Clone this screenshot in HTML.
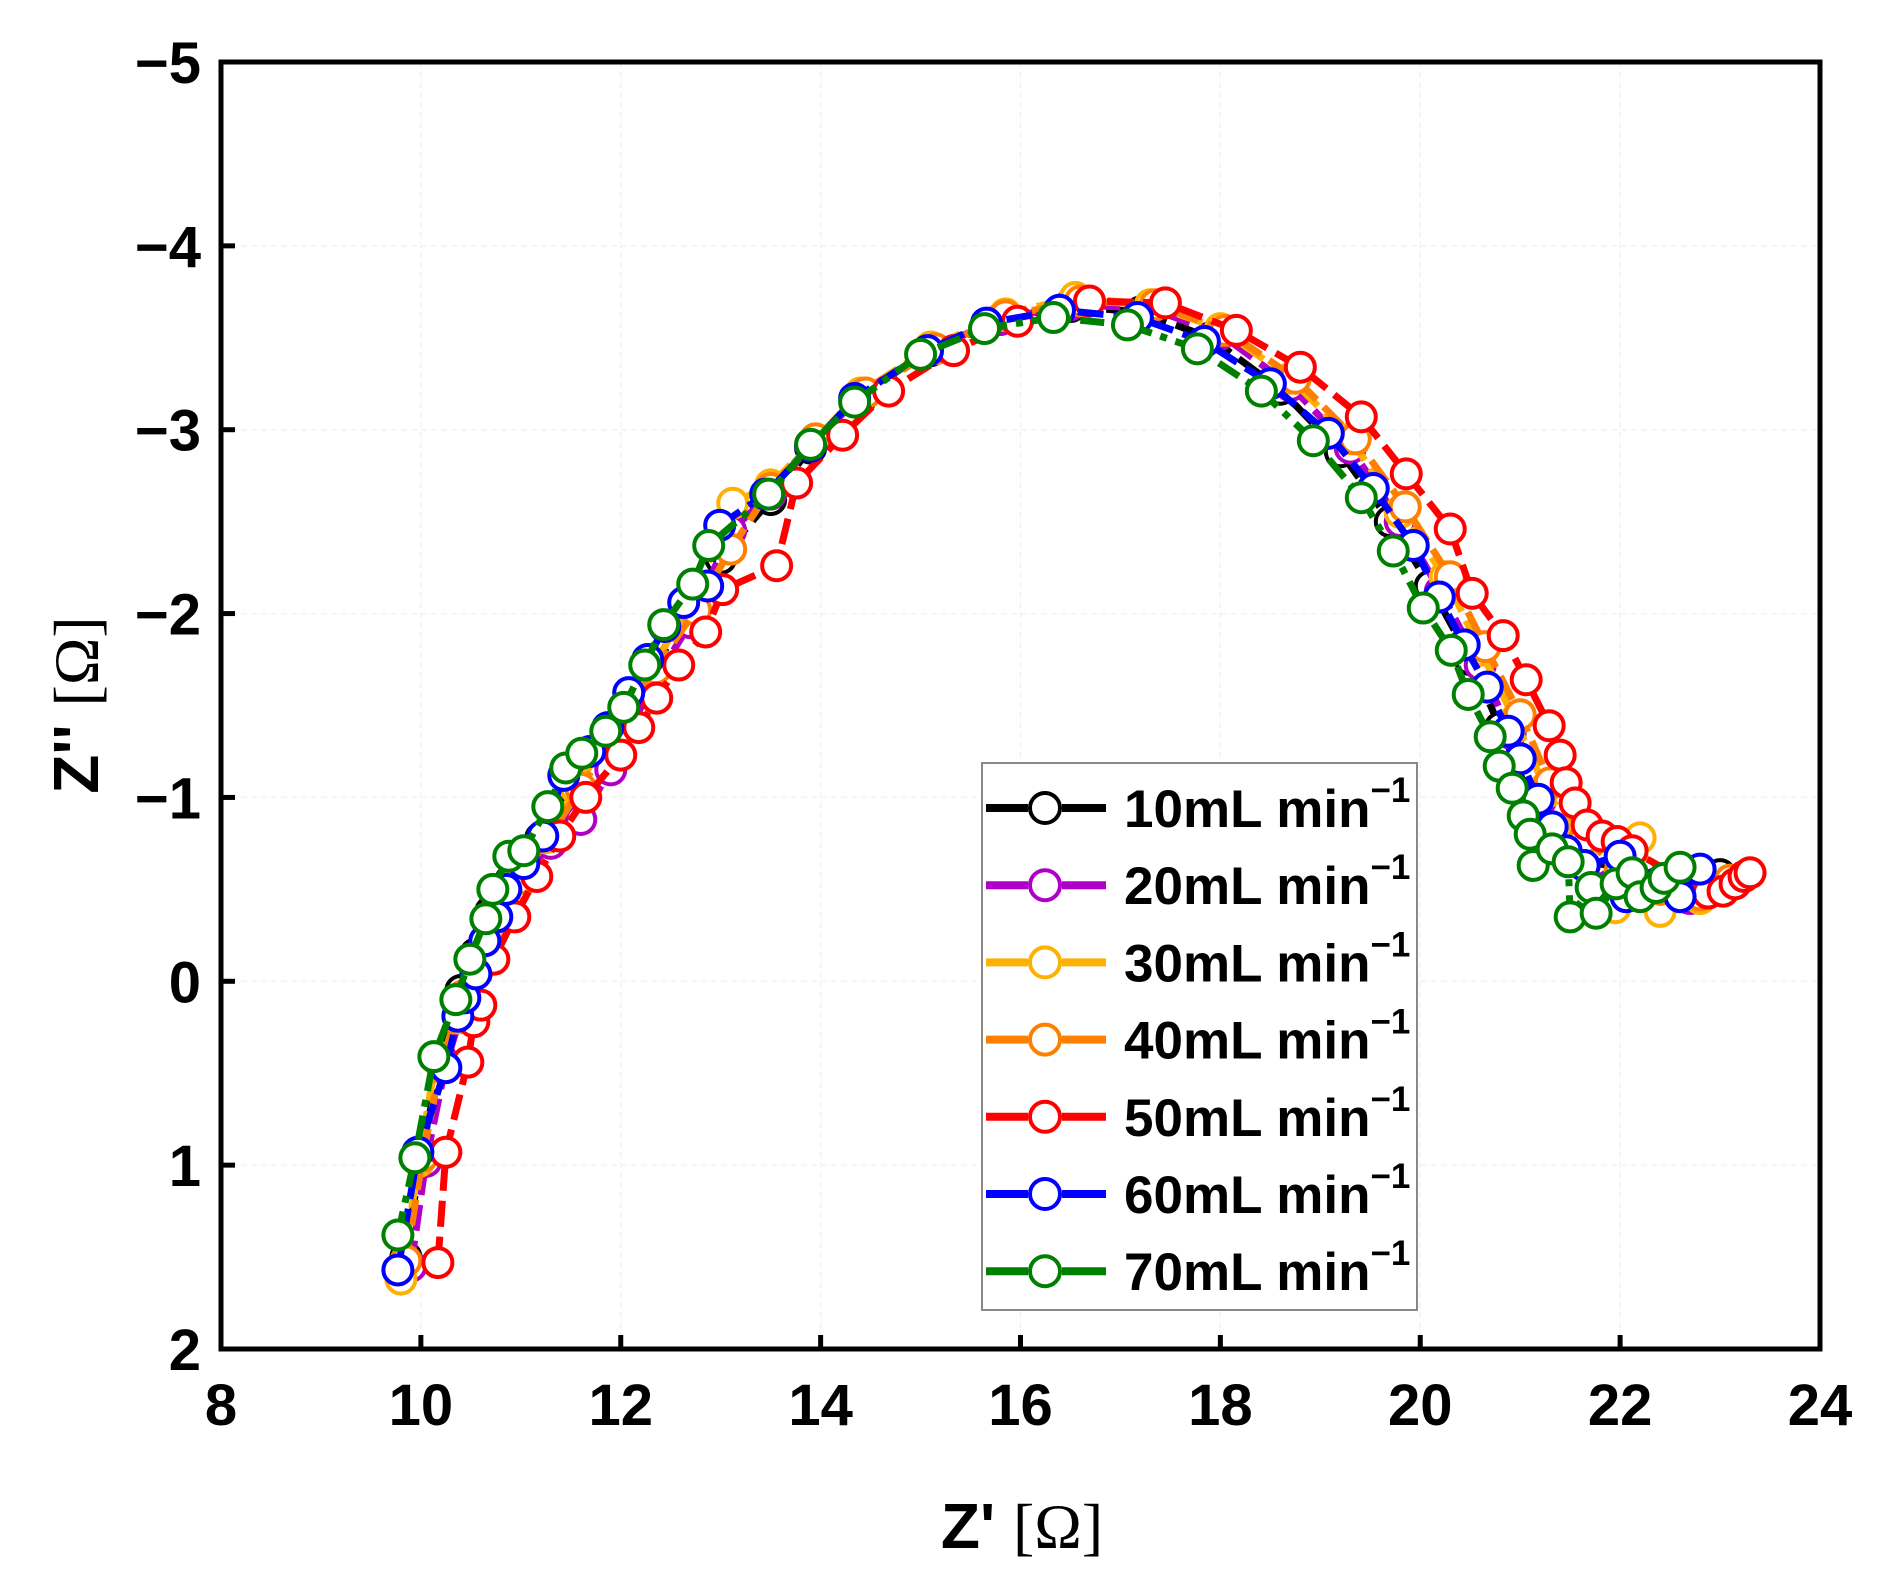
<!DOCTYPE html>
<html><head><meta charset="utf-8"><style>
html,body{margin:0;padding:0;background:#fff;}
svg{display:block;font-family:"Liberation Sans",Arial,sans-serif;}
</style></head><body>
<svg id="chart" width="1886" height="1580" viewBox="0 0 1886 1580" xmlns="http://www.w3.org/2000/svg">
<g id="grid"></g>
<g id="series"></g>
<rect x="221" y="62" width="1599" height="1287" fill="none" stroke="#000" stroke-width="5"/>
<g id="axes"></g>
<text x="1022" y="1548" text-anchor="middle" font-size="64" font-weight="bold">Z' <tspan font-weight="normal" font-family="Liberation Serif,serif">[Ω]</tspan></text>
<text transform="translate(98,705) rotate(-90)" text-anchor="middle" font-size="64" font-weight="bold">Z'' <tspan font-weight="normal" font-family="Liberation Serif,serif">[Ω]</tspan></text>
<g id="legend"></g>
</svg>
<script>
const xTicks=[8,10,12,14,16,18,20,22,24];
const yTicks=[-5,-4,-3,-2,-1,0,1,2];
const seriesNames=["10mL min","20mL min","30mL min","40mL min","50mL min","60mL min","70mL min"];
const seriesColors=["#000000","#b000c8","#ffb000","#ff7f00","#ff0000","#0000ff","#008000"];
const s10x=[9.85,10.0,10.2,10.4,10.55,10.7,10.9,11.2,11.5,11.9,12.3,12.7,13.0,13.5,13.9,14.4,15.1,15.8,16.5,17.2,17.9,18.6,19.2,19.7,20.1,20.5,20.8,21.1,21.4,21.8,22.2,22.6,23.0];
const s10y=[1.5,0.95,0.42,0.05,-0.15,-0.38,-0.55,-0.78,-1.05,-1.33,-1.68,-2.02,-2.3,-2.62,-2.9,-3.17,-3.43,-3.6,-3.67,-3.64,-3.5,-3.22,-2.88,-2.5,-2.15,-1.75,-1.38,-1.0,-0.72,-0.55,-0.5,-0.48,-0.58];
const s20x=[9.9,10.05,10.25,10.45,10.6,10.75,11.0,11.3,11.6,11.9,12.3,12.7,13.1,13.5,13.9,14.4,15.1,15.8,16.5,17.3,18.0,18.7,19.3,19.8,20.2,20.6,20.9,21.2,21.5,21.9,22.3,22.7];
const s20y=[1.55,0.98,0.45,0.1,-0.15,-0.33,-0.55,-0.75,-0.88,-1.15,-1.6,-1.95,-2.45,-2.65,-2.92,-3.18,-3.44,-3.6,-3.68,-3.66,-3.52,-3.24,-2.9,-2.5,-2.12,-1.72,-1.35,-0.98,-0.7,-0.52,-0.47,-0.45];
const s30x=[9.8,9.98,10.15,10.38,10.55,10.7,10.95,11.25,11.55,11.9,12.3,12.7,13.12,13.5,13.95,14.4,15.1,15.85,16.55,17.3,18.0,18.7,19.3,19.8,20.25,20.6,20.95,21.25,21.6,21.95,22.2,22.4,22.8];
const s30y=[1.62,0.98,0.42,0.2,-0.05,-0.3,-0.52,-0.78,-1.05,-1.35,-1.7,-2.05,-2.6,-2.7,-2.95,-3.2,-3.45,-3.63,-3.72,-3.68,-3.55,-3.28,-2.95,-2.55,-2.2,-1.8,-1.42,-1.05,-0.75,-0.4,-0.78,-0.38,-0.45];
const s40x=[9.85,10.02,10.2,10.42,10.58,10.75,11.0,11.3,11.6,11.95,12.35,12.75,13.1,13.5,13.95,14.45,15.15,15.85,16.6,17.35,18.05,18.75,19.35,19.85,20.3,20.65,21.0,21.3,21.65,22.0,22.4,22.8,23.1];
const s40y=[1.52,0.95,0.45,0.08,-0.12,-0.35,-0.56,-0.8,-1.05,-1.36,-1.7,-2.02,-2.35,-2.68,-2.95,-3.2,-3.44,-3.62,-3.7,-3.68,-3.54,-3.28,-2.95,-2.58,-2.2,-1.82,-1.45,-1.08,-0.78,-0.6,-0.5,-0.47,-0.55];
const s50x=[10.17,10.25,10.47,10.53,10.6,10.73,10.94,11.16,11.39,11.65,12.0,12.18,12.36,12.58,12.85,13.02,13.56,13.76,14.22,14.68,15.33,15.97,16.69,17.45,18.16,18.8,19.41,19.86,20.3,20.52,20.83,21.06,21.29,21.4,21.46,21.55,21.67,21.82,21.97,22.12,22.88,23.03,23.15,23.24,23.3];
const s50y=[1.53,0.93,0.44,0.22,0.13,-0.12,-0.35,-0.57,-0.79,-1.0,-1.23,-1.38,-1.54,-1.72,-1.9,-2.13,-2.26,-2.71,-2.97,-3.21,-3.43,-3.59,-3.7,-3.69,-3.54,-3.34,-3.07,-2.76,-2.46,-2.11,-1.88,-1.64,-1.39,-1.23,-1.08,-0.97,-0.85,-0.79,-0.76,-0.71,-0.48,-0.49,-0.53,-0.57,-0.59];
const s60x=[9.77,9.97,10.25,10.37,10.44,10.55,10.64,10.76,10.85,11.03,11.22,11.43,11.69,11.87,12.08,12.27,12.44,12.63,12.87,12.99,13.45,13.9,14.34,15.07,15.66,16.39,17.17,17.84,18.5,19.08,19.53,19.93,20.19,20.44,20.67,20.88,21.0,21.18,21.32,21.46,21.64,22.0,22.06,22.36,22.6,22.8];
const s60y=[1.57,0.93,0.47,0.19,0.09,-0.04,-0.22,-0.35,-0.5,-0.64,-0.79,-1.12,-1.25,-1.38,-1.57,-1.75,-1.93,-2.06,-2.15,-2.48,-2.65,-2.91,-3.17,-3.43,-3.58,-3.65,-3.61,-3.48,-3.25,-2.98,-2.68,-2.37,-2.09,-1.83,-1.6,-1.36,-1.21,-0.99,-0.84,-0.71,-0.63,-0.68,-0.46,-0.53,-0.46,-0.61];
const s70x=[9.77,9.94,10.13,10.35,10.49,10.65,10.72,10.88,11.03,11.27,11.45,11.61,11.85,12.03,12.24,12.43,12.72,12.88,13.48,13.9,14.34,15.0,15.64,16.33,17.07,17.77,18.41,18.93,19.41,19.73,20.03,20.31,20.48,20.7,20.79,20.92,21.03,21.1,21.13,21.32,21.48,21.5,21.71,21.76,21.96,22.12,22.2,22.36,22.44,22.6];
const s70y=[1.38,0.96,0.41,0.1,-0.12,-0.34,-0.5,-0.68,-0.71,-0.95,-1.16,-1.24,-1.36,-1.49,-1.72,-1.94,-2.16,-2.37,-2.65,-2.92,-3.15,-3.41,-3.55,-3.61,-3.57,-3.44,-3.21,-2.94,-2.63,-2.34,-2.03,-1.8,-1.56,-1.33,-1.17,-1.05,-0.9,-0.8,-0.63,-0.72,-0.65,-0.35,-0.51,-0.37,-0.53,-0.59,-0.46,-0.51,-0.56,-0.62];
const allX=[s10x,s20x,s30x,s40x,s50x,s60x,s70x];
const allY=[s10y,s20y,s30y,s40y,s50y,s60y,s70y];

const NS="http://www.w3.org/2000/svg";
const L=221,R=1820,T=62,B=1349;
function xs(v){return L+(v-8)/16*(R-L);}
function ys(v){return T+(v+5)/7*(B-T);}
function mk(tag,attrs,parent){const e=document.createElementNS(NS,tag);for(const k in attrs)e.setAttribute(k,attrs[k]);parent.appendChild(e);return e;}
const grid=document.getElementById('grid'),axes=document.getElementById('axes'),ser=document.getElementById('series'),leg=document.getElementById('legend');
xTicks.forEach(t=>{
  const g=mk('line',{x1:xs(t),x2:xs(t),y1:T,y2:B,stroke:'#f2f2f2','stroke-width':1.5,'stroke-dasharray':'6,4'},grid);
  
  
  const tk=mk('line',{x1:xs(t),x2:xs(t),y1:B,y2:B-14,stroke:'#000','stroke-width':5},axes);
  
  
  const tx=mk('text',{x:xs(t),y:B+76,'text-anchor':'middle','font-size':58,'font-weight':'bold'},axes);
  tx.textContent=t;
  
  
});
yTicks.forEach(t=>{
  const g=mk('line',{x1:L,x2:R,y1:ys(t),y2:ys(t),stroke:'#f2f2f2','stroke-width':1.5,'stroke-dasharray':'6,4'},grid);
  
  
  const tk=mk('line',{x1:L,x2:L+14,y1:ys(t),y2:ys(t),stroke:'#000','stroke-width':5},axes);
  
  
  const tx=mk('text',{x:L-20,y:ys(t)+21,'text-anchor':'end','font-size':58,'font-weight':'bold'},axes);
  tx.textContent=(t<0?'\u2212'+(-t):t);
  
  
});
allX.forEach((xa,i)=>{
  const g=mk('g',{},ser);
  
  
  const pts=xa.map((v,j)=>xs(v).toFixed(1)+','+ys(allY[i][j]).toFixed(1)).join(' ');
  const pl=mk('polyline',{points:pts,fill:'none',stroke:seriesColors[i],'stroke-width':7,'stroke-dasharray':i==6?'24,9,7,9':'26,10'},g);
  
  
  xa.forEach((v,j)=>{
    const c=mk('circle',{cx:xs(v),cy:ys(allY[i][j]),r:14.5,fill:'#fff',stroke:seriesColors[i],'stroke-width':4},g);
    
    
  });
});
const lb=mk('rect',{x:982,y:763,width:435,height:547,fill:'#fff',stroke:'#888','stroke-width':2},leg);


seriesNames.forEach((n,i)=>{
  const y=808+i*77.2;
  const g=mk('g',{},leg);
  
  
  mk('line',{x1:986,x2:1028,y1:y,y2:y,stroke:seriesColors[i],'stroke-width':8},g);
  mk('line',{x1:1062,x2:1106,y1:y,y2:y,stroke:seriesColors[i],'stroke-width':8},g);
  mk('circle',{cx:1045,cy:y,r:15,fill:'#fff',stroke:seriesColors[i],'stroke-width':4},g);
  const t=mk('text',{x:1124,y:y+19,'font-size':53,'font-weight':'bold'},g);
  t.textContent=n;
  const s=mk('tspan',{dy:-25,'font-size':35},t);
  s.textContent='\u22121';
});
</script>
</body></html>
